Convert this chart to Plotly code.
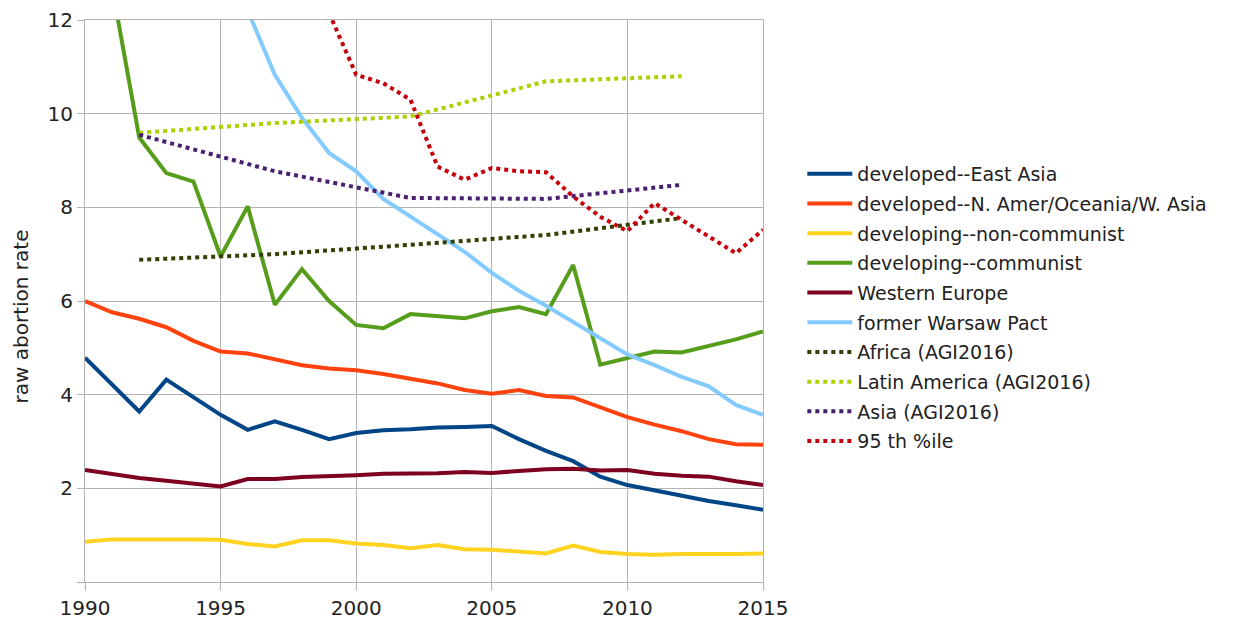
import plotly.graph_objects as go

years = list(range(1990, 2016))

east_asia = [4.79, 4.2, 3.64, 4.32, 3.95, 3.57, 3.25, 3.43, 3.25, 3.05, 3.18, 3.24, 3.26, 3.3, 3.31,
             3.33, 3.05, 2.8, 2.58, 2.25, 2.07, 1.95, 1.84, 1.73, 1.64, 1.54]
n_amer = [6.0, 5.76, 5.62, 5.44, 5.15, 4.92, 4.88, 4.75, 4.63, 4.56, 4.52, 4.44, 4.34, 4.24, 4.1,
          4.02, 4.1, 3.97, 3.94, 3.72, 3.52, 3.36, 3.22, 3.05, 2.94, 2.93]
non_communist = [0.86, 0.91, 0.91, 0.92, 0.91, 0.9, 0.81, 0.76, 0.89, 0.89, 0.82, 0.79, 0.72, 0.79, 0.7,
                 0.69, 0.65, 0.61, 0.78, 0.64, 0.6, 0.58, 0.6, 0.59, 0.6, 0.61]
communist = [15.0, 12.7, 9.49, 8.73, 8.55, 6.95, 8.02, 5.92, 6.68, 6.0, 5.49, 5.42, 5.72, 5.68, 5.63,
             5.78, 5.87, 5.72, 6.77, 4.64, 4.78, 4.92, 4.9, 5.04, 5.18, 5.35]
western_europe = [2.39, 2.3, 2.22, 2.16, 2.09, 2.04, 2.2, 2.2, 2.24, 2.25, 2.28, 2.31, 2.31, 2.32, 2.35,
                  2.33, 2.37, 2.41, 2.42, 2.38, 2.39, 2.31, 2.27, 2.25, 2.15, 2.07]
warsaw_pact = [17.0, 16.0, 15.2, 14.5, 13.8, 13.2, 12.2, 10.83, 9.91, 9.16, 8.77, 8.18, 7.8, 7.42, 7.05,
               6.6, 6.22, 5.9, 5.55, 5.2, 4.86, 4.63, 4.38, 4.18, 3.78, 3.57]

agi_years = [1992, 1997, 2002, 2007, 2012]
africa = [6.88, 7.0, 7.2, 7.41, 7.77]
latin_america = [9.59, 9.8, 9.94, 10.69, 10.8]
asia = [9.55, 8.77, 8.2, 8.18, 8.48]

pct_years = list(range(1999, 2016))
pct95 = [12.15, 10.83, 10.65, 10.3, 8.87, 8.59, 8.84, 8.77, 8.75, 8.23, 7.8, 7.49, 8.09, 7.74, 7.38,
         7.02, 7.52]

solid = [
    ("developed--East Asia", east_asia, "#004586"),
    ("developed--N. Amer/Oceania/W. Asia", n_amer, "#ff420e"),
    ("developing--non-communist", non_communist, "#ffd320"),
    ("developing--communist", communist, "#579d1c"),
    ("Western Europe", western_europe, "#7e0021"),
    ("former Warsaw Pact", warsaw_pact, "#83caff"),
]
dotted = [
    ("Africa (AGI2016)", agi_years, africa, "#314004"),
    ("Latin America (AGI2016)", agi_years, latin_america, "#aecf00"),
    ("Asia (AGI2016)", agi_years, asia, "#4b1f6f"),
    ("95 th %ile", pct_years, pct95, "#c5000b"),
]

fig = go.Figure()
i = 0
for name, vals, color in solid:
    fig.add_trace(go.Scatter(x=years, y=vals, name=name, mode="lines",
                             line=dict(color=color, width=4), legendgroup=str(i)))
    i += 1
for name, xs, vals, color in dotted:
    fig.add_trace(go.Scatter(x=xs, y=vals, name=name, mode="lines",
                             line=dict(color=color, width=4, dash="4px,4px"), legendgroup=str(i)))
    i += 1

grid = "#b3b3b3"
# page body has an 8px margin, so the figure is 8px smaller and shifted
fig.update_layout(
    width=1229, height=613,
    margin=dict(l=77, r=474, t=12, b=39, autoexpand=False),
    paper_bgcolor="white", plot_bgcolor="white",
    font=dict(family="DejaVu Sans", size=18, color="#222222"),
    showlegend=True,
    legend=dict(x=1.058, xanchor="left", y=0.76, yanchor="top",
                font=dict(size=19, color="#222222"),
                traceorder="grouped", tracegroupgap=2, itemwidth=45,
                bgcolor="rgba(0,0,0,0)"),
)
fig.add_annotation(text="raw abortion rate", xref="paper", yref="paper",
                   x=-0.094, y=0.473, textangle=-90, showarrow=False,
                   xanchor="center", yanchor="middle",
                   font=dict(size=20, color="#222222"))
fig.update_xaxes(range=[1990, 2015], tickvals=[1990, 1995, 2000, 2005, 2010, 2015],
                 showgrid=True, gridcolor=grid, gridwidth=1, automargin=False,
                 showline=True, linecolor=grid, linewidth=1, mirror=True,
                 ticks="outside", ticklen=8, tickcolor=grid,
                 tickfont=dict(size=20, color="#222222"), zeroline=False)
fig.update_yaxes(range=[0, 12], tickvals=[0, 2, 4, 6, 8, 10, 12],
                 ticktext=["", "2", "4", "6", "8", "10", "12"],
                 showgrid=True, gridcolor=grid, gridwidth=1, automargin=False,
                 showline=True, linecolor=grid, linewidth=1, mirror=True,
                 ticks="outside", ticklen=7, tickcolor=grid,
                 tickfont=dict(size=20, color="#222222"), zeroline=False)

fig.write_html("out.html")
